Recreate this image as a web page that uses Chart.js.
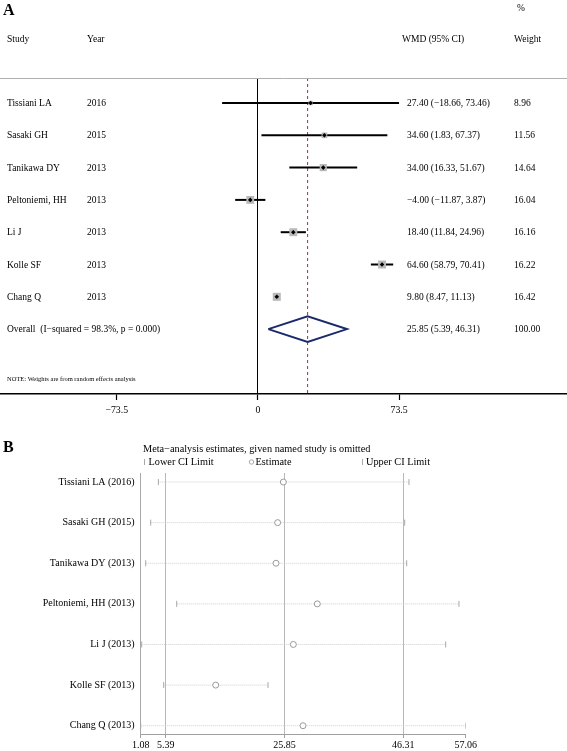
<!DOCTYPE html>
<html><head><meta charset="utf-8">
<script src="https://cdn.jsdelivr.net/npm/chart.js@4.4.0/dist/chart.umd.min.js"></script>
<style>
html,body{margin:0;padding:0;background:#fff;}
#wrap{position:relative;width:567px;height:751px;overflow:hidden;background:#fff;}
#cA{position:absolute;left:0;top:0;}
#cB{position:absolute;left:0;top:430px;}
</style></head><body>
<div id="wrap"><canvas id="cA" width="567" height="424"></canvas><canvas id="cB" width="567" height="321"></canvas></div>
<script>
// ---------- Panel A data ----------
const studies = ['Tissiani LA','Sasaki GH','Tanikawa DY','Peltoniemi, HH','Li J','Kolle SF','Chang Q'];
const years = ['2016','2015','2013','2013','2013','2013','2013'];
const wmd = [27.40, 34.60, 34.00, -4.00, 18.40, 64.60, 9.80];
const ciLow = [-18.66, 1.83, 16.33, -11.87, 11.84, 58.79, 8.47];
const ciHigh = [73.46, 67.37, 51.67, 3.87, 24.96, 70.41, 11.13];
const weights = [8.96, 11.56, 14.64, 16.04, 16.16, 16.22, 16.42];
const overallEst = 25.85, overallLow = 5.39, overallHigh = 46.31, overallWeight = 100.00;
const overallLabel = 'Overall  (I\u2212squared = 98.3%, p = 0.000)';
const noteText = 'NOTE: Weights are from random effects analysis';
const axisTicksA = [-73.5, 0, 73.5];

// ---------- Panel B data ----------
const omittedLabels = ['Tissiani LA (2016)','Sasaki GH (2015)','Tanikawa DY (2013)','Peltoniemi, HH (2013)','Li J (2013)','Kolle SF (2013)','Chang Q (2013)'];
const omitLow = [4.12, 2.80, 1.94, 7.28, 1.25, 5.04, 1.08];
const omitEst = [25.65, 24.67, 24.39, 31.50, 27.37, 14.00, 29.04];
const omitHigh = [47.29, 46.55, 46.89, 55.90, 53.61, 23.01, 57.06];
const axisTicksB = [1.08, 5.39, 25.85, 46.31, 57.06];
const titleB = 'Meta\u2212analysis estimates, given named study is omitted';

const FONT = "'Liberation Serif', 'Times New Roman', serif";
Chart.defaults.font.family = FONT;
Chart.defaults.animation = false;

const num = v => (v < 0 ? '\u2212' : '') + Math.abs(v).toFixed(2);
const ciText = (e, l, h) => `${num(e)} (${num(l)}, ${num(h)})`;

// ---------- Panel A ----------
const OV = studies.length;
const YA_MIN = -0.774, YA_MAX = 9.009;
const dsA = [];
dsA.push({type:'scatter', data:[{x:overallEst,y:YA_MIN},{x:overallEst,y:YA_MAX}], showLine:true,
  borderColor:'#b0283a', borderWidth:1, borderDash:[3,3], pointRadius:0, order:10});
studies.forEach((s,i) => dsA.push({type:'scatter', data:[{x:ciLow[i],y:i},{x:ciHigh[i],y:i}], showLine:true,
  borderColor:'#000', borderWidth:2, pointRadius:0, order:8}));
dsA.push({type:'scatter', data: wmd.map((v,i)=>({x:v,y:i})), pointStyle:'rect',
  pointRadius: c => 0.49 * weights[c.dataIndex] / Math.SQRT2, pointBackgroundColor:'#b9b9b9', pointBorderWidth:0, order:3});
dsA.push({type:'scatter', data: wmd.map((v,i)=>({x:v,y:i})), pointStyle:'rectRot',
  pointRadius:2.3, pointBackgroundColor:'#000', pointBorderWidth:0, order:2});
dsA.push({type:'scatter', data:[{x:overallLow,y:OV},{x:overallEst,y:OV-0.4},{x:overallHigh,y:OV},{x:overallEst,y:OV+0.4},{x:overallLow,y:OV}],
  showLine:true, borderColor:'#1b2a6b', borderWidth:2, borderJoinStyle:'miter', pointRadius:0, fill:false, order:1});

const textA = {id:'textA', afterDraw(chart){
  const ctx = chart.ctx, y = chart.scales.y, ca = chart.chartArea;
  ctx.save();
  ctx.strokeStyle = '#b0b0b0'; ctx.lineWidth = 1;
  ctx.beginPath(); ctx.moveTo(0, ca.top + 0.5); ctx.lineTo(chart.width, ca.top + 0.5); ctx.stroke();
  ctx.fillStyle = '#000'; ctx.textBaseline = 'middle'; ctx.textAlign = 'left';
  ctx.font = "bold 16px " + FONT; ctx.fillText('A', 3, 11);
  ctx.font = "9.5px " + FONT;
  ctx.fillText('%', 517, 8);
  ctx.fillText('Study', 7, 39); ctx.fillText('Year', 87, 39);
  ctx.fillText('WMD (95% CI)', 402, 39); ctx.fillText('Weight', 514, 39);
  studies.forEach((s,i) => {
    const py = y.getPixelForValue(i) + 0.5;
    ctx.fillText(s, 7, py); ctx.fillText(years[i], 87, py);
    ctx.fillText(ciText(wmd[i], ciLow[i], ciHigh[i]), 407, py);
    ctx.fillText(weights[i].toFixed(2), 514, py);
  });
  const po = y.getPixelForValue(OV) + 0.5;
  ctx.fillText(overallLabel, 7, po);
  ctx.fillText(ciText(overallEst, overallLow, overallHigh), 407, po);
  ctx.fillText(overallWeight.toFixed(2), 514, po);
  ctx.font = "6.5px " + FONT; ctx.fillText(noteText, 7, 379);
  ctx.restore();
}};

new Chart(document.getElementById('cA'), {
  type:'scatter',
  data:{datasets:dsA},
  options:{
    responsive:false, animation:false,
    layout:{autoPadding:false, padding:{top:78, left:0, right:0, bottom:0}},
    plugins:{legend:{display:false}, tooltip:{enabled:false}},
    scales:{
      x:{type:'linear', min:-134.3, max:160.9,
        afterBuildTicks: s => { s.ticks = axisTicksA.map(v => ({value:v})); },
        grid:{color: c => (c.tick && c.tick.value === 0) ? '#000' : 'rgba(0,0,0,0)', lineWidth:1,
              drawTicks:true, tickLength:6, tickColor:'#000', tickWidth:1.2},
        border:{color:'#000', width:1.5},
        ticks:{font:{size:9.8}, color:'#000', padding:5, maxRotation:0, autoSkip:false,
               callback: v => (v < 0 ? '\u2212' : '') + Math.abs(v)},
        afterFit: s => { s.height = 30; }
      },
      y:{type:'linear', display:false, min:YA_MIN, max:YA_MAX, reverse:true}
    }
  },
  plugins:[textA]
});

// ---------- Panel B ----------
const dsB = [];
omitLow.forEach((lo,i) => dsB.push({type:'scatter', data:[{x:lo,y:i},{x:omitHigh[i],y:i}], showLine:true,
  borderColor:'#cfcfcf', borderWidth:1, borderDash:[1,1], pointRadius:0, order:6}));
dsB.push({type:'scatter', data: omitLow.map((v,i)=>({x:v,y:i})), pointStyle:'line', pointRotation:90,
  pointRadius:3, pointBorderColor:'#a8a8a8', pointBorderWidth:1, order:3});
dsB.push({type:'scatter', data: omitHigh.map((v,i)=>({x:v,y:i})), pointStyle:'line', pointRotation:90,
  pointRadius:3, pointBorderColor:'#a8a8a8', pointBorderWidth:1, order:3});
dsB.push({type:'scatter', data: omitEst.map((v,i)=>({x:v,y:i})), pointStyle:'circle',
  pointRadius:3, pointBorderColor:'#9a9a9a', pointBackgroundColor:'#fff', pointBorderWidth:1, order:1});

const textB = {id:'textB', afterDraw(chart){
  const ctx = chart.ctx;
  ctx.save();
  ctx.fillStyle = '#000'; ctx.textBaseline = 'middle'; ctx.textAlign = 'left';
  ctx.font = "bold 16px " + FONT; ctx.fillText('B', 3, 18);
  ctx.font = "10.3px " + FONT;
  ctx.fillText(titleB, 143, 19.5);
  ctx.strokeStyle = '#a8a8a8'; ctx.lineWidth = 1;
  ctx.beginPath(); ctx.moveTo(144.5, 29); ctx.lineTo(144.5, 35); ctx.stroke();
  ctx.beginPath(); ctx.moveTo(362.5, 29); ctx.lineTo(362.5, 35); ctx.stroke();
  ctx.beginPath(); ctx.arc(251.5, 32, 2.2, 0, Math.PI*2); ctx.stroke();
  ctx.fillText('Lower CI Limit', 148.5, 32);
  ctx.fillText('Estimate', 255.5, 32);
  ctx.fillText('Upper CI Limit', 366, 32);
  ctx.restore();
}};

new Chart(document.getElementById('cB'), {
  type:'scatter',
  data:{datasets:dsB},
  options:{
    responsive:false, animation:false,
    layout:{autoPadding:false, padding:{top:43, left:0, right:101.3, bottom:0}},
    plugins:{legend:{display:false}, tooltip:{enabled:false}},
    scales:{
      x:{type:'linear', min:1.08, max:57.06,
        afterBuildTicks: s => { s.ticks = axisTicksB.map(v => ({value:v})); },
        grid:{color: c => (c.tick && (c.tick.value === axisTicksB[0] || c.tick.value === axisTicksB[axisTicksB.length-1])) ? 'rgba(0,0,0,0)' : '#b8b8b8',
              tickColor:'#a0a0a0', tickLength:4},
        border:{color:'#a0a0a0', width:1},
        ticks:{font:{size:10}, color:'#000', padding:1, maxRotation:0, autoSkip:false,
               callback: v => Number(v).toFixed(2)},
        afterFit: s => { s.height = 17; }
      },
      y:{type:'linear', min:-0.222, max:6.204, reverse:true,
        afterBuildTicks: s => { s.ticks = omittedLabels.map((_,i) => ({value:i})); },
        grid:{display:false, drawTicks:false},
        border:{display:true, color:'#a8a8a8', width:1},
        ticks:{font:{size:10}, color:'#000', padding:6, autoSkip:false,
               callback: v => omittedLabels[v]},
        afterFit: s => { s.width = 140.7; }
      }
    }
  },
  plugins:[textB]
});
</script>
</body></html>
